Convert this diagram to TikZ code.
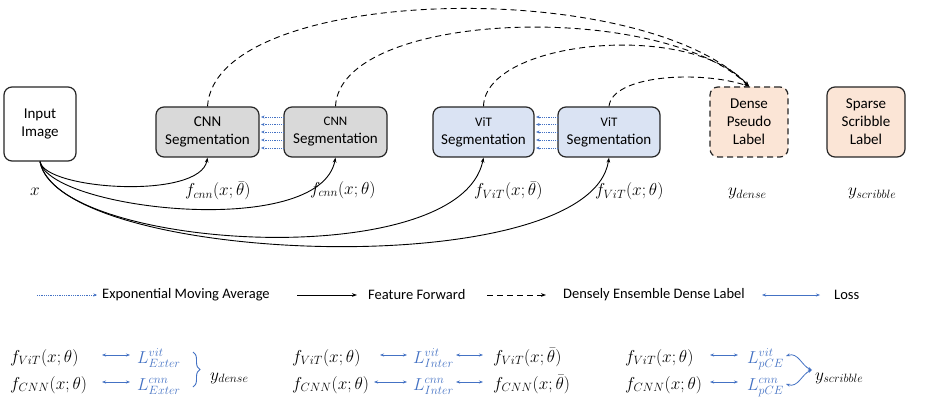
\documentclass[tikz,border=0pt]{standalone}
\usepackage{fontspec}
\setmainfont{Carlito}
\usetikzlibrary{arrows.meta,decorations.pathreplacing}
\definecolor{lossblue}{HTML}{4472C4}
\definecolor{cnnfill}{HTML}{D9D9D9}
\definecolor{vitfill}{HTML}{DAE3F3}
\definecolor{labfill}{HTML}{FBE5D6}
\definecolor{edge}{HTML}{262626}
\tikzset{
  box/.style={draw=edge, line width=1.2pt, rounded corners=8pt, align=center, inner sep=0pt,
              font=\fontsize{15}{18}\selectfont},
  lab/.style={anchor=base west, inner sep=0pt, font=\fontsize{18}{22}\selectfont},
  txt/.style={anchor=west, inner sep=0pt, font=\fontsize{14.5}{17}\selectfont},
  fwd/.style={line width=0.9pt, -{Stealth[length=5pt,width=3.6pt]}},
  ens/.style={line width=0.9pt, dash pattern=on 6pt off 4pt, -{Stealth[length=5pt,width=3.6pt]}},
  ema/.style={lossblue, line width=0.8pt, densely dotted, -{Stealth[length=3.5pt,width=3pt]}},
  lossarr/.style={lossblue, line width=0.8pt, {Stealth[length=4pt,width=3pt]}-{Stealth[length=4pt,width=3pt]}},
}
\begin{document}
\begin{tikzpicture}[x=1pt,y=-1pt]
\useasboundingbox[fill=white] (0,0) rectangle (928,398);

% boxes
\node[box, minimum width=72, minimum height=74] (in) at (40,124) {Input\\Image};
\node[box, fill=cnnfill, minimum width=103, minimum height=50] (c1) at (207.5,132) {CNN\\Segmentation};
\node[box, fill=cnnfill, minimum width=103, minimum height=50] (c2) at (335.5,132) {{\fontsize{13}{15}\selectfont CNN}\\Segmentation};
\node[box, fill=vitfill, minimum width=101, minimum height=50] (v1) at (483.5,132) {{\fontsize{13}{15}\selectfont ViT}\\Segmentation};
\node[box, fill=vitfill, minimum width=102, minimum height=50] (v2) at (609,132) {{\fontsize{13}{15}\selectfont ViT}\\Segmentation};
\node[box, fill=labfill, dash pattern=on 6pt off 4pt, minimum width=78, minimum height=70] (dense) at (749,122) {Dense\\Pseudo\\Label};
\node[box, fill=labfill, minimum width=78, minimum height=70] (sparse) at (866,122) {Sparse\\Scribble\\Label};

% labels under boxes
\node[lab] (lx) at (30,196) {$x$};
\node[lab] (l1) at (185,196) {$f_{cnn}(x;\bar\theta)$};
\node[lab] (l2) at (310,194) {$f_{cnn}(x;\theta)$};
\node[lab] (l3) at (474,196) {$f_{ViT}(x;\bar\theta)$};
\node[lab] (l4) at (595,196) {$f_{ViT}(x;\theta)$};
\node[lab] (l5) at (728,196) {$y_{dense}$};
\node[lab] (l6) at (848,196) {$y_{scribble}$};

% EMA arrows
\foreach \dy in {117,124.5,132,140,148}{
  \draw[ema, shorten >=1.5pt] (c2.west |- 0,\dy) -- (c1.east |- 0,\dy);
  \draw[ema, shorten >=1.5pt] (v2.west |- 0,\dy) -- (v1.east |- 0,\dy);
}

% feature forward
\draw[fwd] (in.south) .. controls (45,190) and (200,200) .. (c1.south);
\draw[fwd] (in.south) .. controls (50,210) and (320,240) .. (c2.south);
\draw[fwd] (in.south) .. controls (55,250) and (460,275) .. (v1.south);
\draw[fwd] (in.south) .. controls (60,265) and (590,285) .. (v2.south);

% dense ensemble
\draw[ens] (c1.north) .. controls (215,-15) and (640,-25) .. (dense.north);
\draw[ens] (c2.north) .. controls (340,10) and (660,0) .. (dense.north);
\draw[ens] (v1.north) .. controls (485,40) and (690,20) .. (dense.north);
\draw[ens] (v2.north) .. controls (612,75) and (700,70) .. (dense.north);

% legend
\coordinate (ea) at (37,295); \coordinate (eb) at (97,295);
\draw[ema] (ea) -- (eb);
\node[txt] (t1) at (102,295) {Exponential Moving Average};
\coordinate (fa) at (297,295); \coordinate (fb) at (357,295);
\draw[fwd, line width=1pt] (fa) -- (fb);
\node[txt] (t2) at (368,295) {Feature Forward};
\coordinate (da) at (487,295); \coordinate (db) at (546,295);
\draw[ens] (da) -- (db);
\node[txt] (t3) at (563,295) {Densely Ensemble Dense Label};
\coordinate (la) at (762,295); \coordinate (lb) at (820,295);
\draw[lossarr] (la) -- (lb);
\node[txt] (t4) at (834,295) {Loss};

% bottom formulas: column 1
\node[lab] (a1) at (10,362) {$f_{ViT}(x;\theta)$};
\node[lab] (a2) at (10,389) {$f_{CNN}(x;\theta)$};
\node[lab, text=lossblue] (a3) at (137,363) {$L^{vit}_{Exter}$};
\node[lab, text=lossblue] (a4) at (137,390) {$L^{cnn}_{Exter}$};
\coordinate (p1) at (102,355); \coordinate (p2) at (130,355);
\coordinate (p3) at (102,382); \coordinate (p4) at (130,382);
\draw[lossarr] (p1) -- (p2);
\draw[lossarr] (p3) -- (p4);
\draw[lossblue, line width=0.9pt, decorate, decoration={brace,amplitude=7pt}] (193,352) -- (193,387);
\node[lab] (a5) at (210,380) {$y_{dense}$};

% column 2
\node[lab] (b1) at (292,362) {$f_{ViT}(x;\theta)$};
\node[lab] (b2) at (292,389) {$f_{CNN}(x;\theta)$};
\node[lab, text=lossblue] (b3) at (413,363) {$L^{vit}_{Inter}$};
\node[lab, text=lossblue] (b4) at (413,390) {$L^{cnn}_{Inter}$};
\node[lab] (b5) at (493,362) {$f_{ViT}(x;\bar\theta)$};
\node[lab] (b6) at (493,389) {$f_{CNN}(x;\bar\theta)$};
\coordinate (q1) at (380,355); \coordinate (q2) at (407,355);
\coordinate (q3) at (374,382); \coordinate (q4) at (407,382);
\coordinate (q5) at (456,355); \coordinate (q6) at (483,355);
\coordinate (q7) at (456,382); \coordinate (q8) at (483,382);
\draw[lossarr] (q1) -- (q2);
\draw[lossarr] (q3) -- (q4);
\draw[lossarr] (q5) -- (q6);
\draw[lossarr] (q7) -- (q8);

% column 3
\node[lab] (c31) at (625,362) {$f_{ViT}(x;\theta)$};
\node[lab] (c32) at (625,389) {$f_{CNN}(x;\theta)$};
\node[lab, text=lossblue] (c33) at (747,363) {$L^{vit}_{pCE}$};
\node[lab, text=lossblue] (c34) at (747,390) {$L^{cnn}_{pCE}$};
\node[lab] (c35) at (815,380) {$y_{scribble}$};
\coordinate (r1) at (710,355); \coordinate (r2) at (738,355);
\coordinate (r3) at (710,382); \coordinate (r4) at (738,382);
\draw[lossarr] (r1) -- (r2);
\draw[lossarr] (r3) -- (r4);
\coordinate (m0) at (812,370);
\coordinate (m1) at (786,356); \coordinate (m2) at (786,384);
\draw[lossarr] (m1) .. controls (798,352) and (802,366) .. (m0);
\draw[lossarr] (m2) .. controls (798,388) and (802,374) .. (m0);
\end{tikzpicture}
\end{document}
